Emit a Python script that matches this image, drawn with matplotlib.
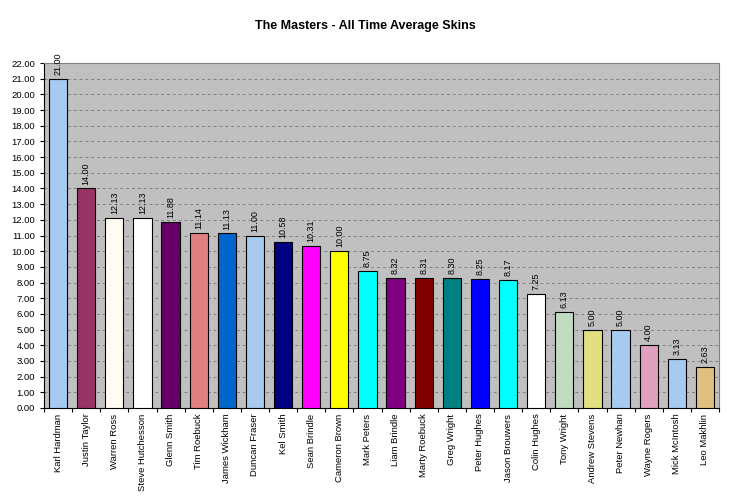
import numpy as np
import matplotlib.pyplot as plt
from matplotlib.ticker import FixedLocator, MultipleLocator, FormatStrFormatter

plt.rcParams['font.family'] = ['Liberation Sans', 'DejaVu Sans']

players = ["Karl Hardman", "Justin Taylor", "Warren Ross", "Steve Hutchesson", "Glenn Smith",
           "Tim Roebuck", "James Wickham", "Duncan Fraser", "Kel Smith", "Sean Brindle",
           "Cameron Brown", "Mark Peters", "Liam Brindle", "Marty Roebuck", "Greg Wright",
           "Peter Hughes", "Jason Brouwers", "Colin Hughes", "Tony Wright", "Andrew Stevens",
           "Peter Newhan", "Wayne Rogers", "Mick McIntosh", "Leo Makhlin"]
skins = [21.00, 14.00, 12.13, 12.13, 11.88, 11.14, 11.13, 11.00, 10.58, 10.31,
         10.00, 8.75, 8.32, 8.31, 8.30, 8.25, 8.17, 7.25, 6.13, 5.00,
         5.00, 4.00, 3.13, 2.63]
colors = ["#A6CAF0", "#993366", "#FFFBF0", "#FFFFFF", "#660066",
          "#E08080", "#0066CC", "#A6CAF0", "#000080", "#FF00FF",
          "#FFFF00", "#00FFFF", "#800080", "#800000", "#008080",
          "#0000FF", "#00FFFF", "#FFFFFF", "#C0DCC0", "#E0E080",
          "#A6CAF0", "#E0A0C0", "#A6CAF0", "#E0C080"]

fig = plt.figure(figsize=(7.3, 4.99), dpi=100)
ax = fig.add_axes([0.0603, 0.1824, 0.9247, 0.6913])
ax.set_facecolor("#C0C0C0")

x = np.arange(len(players))
bars = ax.bar(x, skins, width=0.65, color=colors, edgecolor="#000000", linewidth=0.8, zorder=3)

for b, v in zip(bars, skins):
    ax.text(b.get_x() + b.get_width() / 2, v + 0.25, "%.2f" % v, rotation=90,
            ha="center", va="bottom", fontsize=6.5)

ax.set_xlim(-0.5, len(players) - 0.5)
ax.set_ylim(0, 22)
ax.yaxis.set_major_locator(MultipleLocator(1))
ax.yaxis.set_major_formatter(FormatStrFormatter("%.2f"))
ax.grid(axis="y", color="#808080", linestyle=(0, (3, 3)), linewidth=0.7, zorder=0)

ax.set_xticks(x)
ax.set_xticklabels(players, rotation=90, fontsize=6.8)
ax.xaxis.set_minor_locator(FixedLocator(np.arange(-0.5, len(players), 1)))
ax.tick_params(axis="x", which="major", length=0, pad=4)
ax.tick_params(axis="x", which="minor", length=3, width=0.8)
ax.tick_params(axis="y", labelsize=6.8, length=3, width=0.8)

ax.spines["top"].set_color("#808080")
ax.spines["right"].set_color("#808080")
for s in ["left", "bottom"]:
    ax.spines[s].set_color("#000000")
    ax.spines[s].set_linewidth(0.8)

fig.text(0.5, 0.948, "The Masters - All Time Average Skins", ha="center", va="center",
         fontsize=9, fontweight="bold")

fig.savefig("out.png", dpi=100)
